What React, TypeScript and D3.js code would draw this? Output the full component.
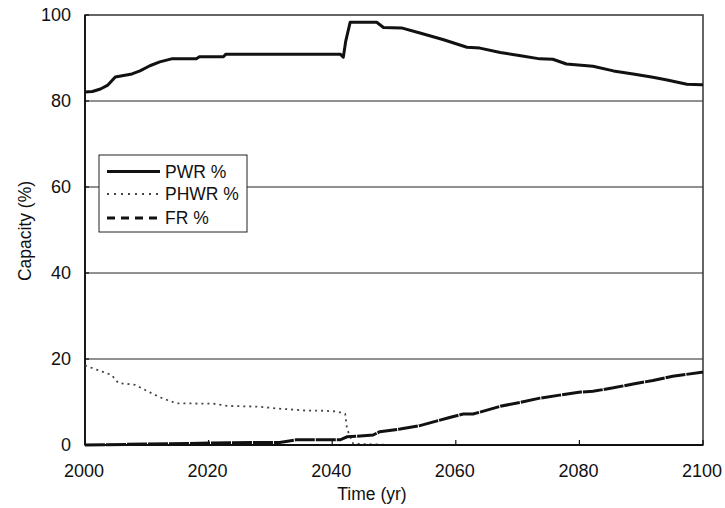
import React from "react";
import * as d3 from "d3";

const pwrYears = [2000, 2001.2, 2002.5, 2003.7, 2004.9, 2007.6, 2008.9, 2010.5, 2012.1, 2014.0, 2018.0, 2018.5, 2022.4, 2022.8, 2041.3, 2041.8, 2042.2, 2042.9, 2047.2, 2048.3, 2051.2, 2054.2, 2057.9, 2061.8, 2063.9, 2067.2, 2070.5, 2073.6, 2075.7, 2077.9, 2082.2, 2085.5, 2088.7, 2091.9, 2094.2, 2097.4, 2099.8, 2100];
const pwrValues = [82.1, 82.2, 82.8, 83.7, 85.6, 86.3, 87.0, 88.2, 89.1, 89.8, 89.8, 90.3, 90.3, 90.9, 90.9, 90.2, 94.0, 98.3, 98.3, 97.1, 97.0, 95.8, 94.3, 92.5, 92.3, 91.3, 90.5, 89.8, 89.7, 88.6, 88.1, 87.0, 86.3, 85.5, 84.9, 83.9, 83.8, 83.8];

const phwrYears = [2000, 2002.5, 2004.3, 2005.4, 2008.1, 2010.0, 2012.1, 2014.8, 2020.8, 2023.0, 2028.3, 2031.0, 2035.8, 2038.0, 2040.8, 2042.1, 2042.4, 2043.4, 2050, 2100];
const phwrValues = [18.5, 17.2, 16.3, 14.4, 14.0, 12.6, 11.1, 9.7, 9.6, 9.1, 8.9, 8.5, 8.0, 8.0, 7.8, 7.2, 3.7, 0.3, 0, 0];

const frYears = [2000, 2027.8, 2031.5, 2034.2, 2041.3, 2042.4, 2046.6, 2047.7, 2051.0, 2054.2, 2059.0, 2061.2, 2062.8, 2067.2, 2070.4, 2073.6, 2076.8, 2080.2, 2082.2, 2085.5, 2088.7, 2091.9, 2095.1, 2099.8, 2100];
const frValues = [0, 0.6, 0.6, 1.2, 1.2, 1.9, 2.3, 3.1, 3.7, 4.5, 6.4, 7.2, 7.2, 9.0, 9.9, 10.9, 11.6, 12.3, 12.5, 13.3, 14.2, 15.0, 16.0, 16.9, 16.9];

const xTicks = [2000, 2020, 2040, 2060, 2080, 2100];
const yTicks = [0, 20, 40, 60, 80, 100];
const gridValues = [20, 40, 60, 80];
const legendLabels = ["PWR %", "PHWR %", "FR %"];

const W = 725, H = 508;
const m = { left: 85, right: 703, top: 15, bottom: 445 };
const font = "Liberation Sans, Arial, sans-serif";

export default function App() {
  const x = d3.scaleLinear().domain([2000, 2100]).range([m.left, m.right]);
  const y = d3.scaleLinear().domain([0, 100]).range([m.bottom, m.top]);
  const line = (xs: number[], vs: number[]) =>
    d3.line<number>().x((_, i) => x(xs[i])).y((d) => y(d))(vs) || "";

  const legendStyles = [
    { dash: undefined, width: 2.8, color: "#111" },
    { dash: "2,5", width: 1.8, color: "#444" },
    { dash: "8,6", width: 2.8, color: "#111" },
  ];
  const legendY = [171.5, 194, 218];

  return (
    <svg width={W} height={H} style={{ position: "absolute", left: 0, top: 0, background: "#fff" }}>
      <rect x={0} y={0} width={W} height={H} fill="#fff" />
      {gridValues.map((v) => (
        <line key={v} x1={m.left} x2={m.right} y1={y(v)} y2={y(v)} stroke="#222" strokeWidth={1} />
      ))}
      <rect x={m.left} y={m.top} width={m.right - m.left} height={m.bottom - m.top} fill="none" stroke="#333" strokeWidth={1.5} />
      <line x1={m.left} x2={m.left} y1={m.top} y2={m.bottom} stroke="#111" strokeWidth={1.8} />
      {yTicks.map((v) => (
        <g key={v}>
          <line x1={m.left} x2={m.left + 4} y1={y(v)} y2={y(v)} stroke="#111" strokeWidth={1.2} />
          <text x={71} y={y(v)} dy="0.36em" textAnchor="end" fontFamily={font} fontSize={18} fill="#111">{v}</text>
        </g>
      ))}
      {xTicks.map((v) => (
        <g key={v}>
          <line x1={x(v)} x2={x(v)} y1={m.bottom} y2={m.bottom - 5} stroke="#111" strokeWidth={1.2} />
          <text x={x(v) - 1} y={477} textAnchor="middle" fontFamily={font} fontSize={18} fill="#111">{v}</text>
        </g>
      ))}
      <text x={372} y={500} textAnchor="middle" fontFamily={font} fontSize={17.5} fill="#111">Time (yr)</text>
      <text transform={`translate(31,${231}) rotate(-90)`} textAnchor="middle" fontFamily={font} fontSize={17.5} fill="#111">Capacity (%)</text>

      <path d={line(phwrYears, phwrValues)} fill="none" stroke="#444" strokeWidth={1.8} strokeDasharray="2,4" />
      <path d={line(frYears, frValues)} fill="none" stroke="#111" strokeWidth={3} strokeDasharray="20,1" />
      <path d={line(pwrYears, pwrValues)} fill="none" stroke="#111" strokeWidth={3} strokeLinejoin="round" />
      <line x1={m.left} x2={m.right} y1={m.bottom} y2={m.bottom} stroke="#111" strokeWidth={2} />

      <rect x={99} y={155} width={148} height={77} fill="#fff" stroke="#222" strokeWidth={1} />
      {legendLabels.map((l, i) => {
        const ly = legendY[i];
        const s = legendStyles[i];
        return (
          <g key={l}>
            <line x1={107} x2={160} y1={ly} y2={ly} stroke={s.color} strokeWidth={s.width} strokeDasharray={s.dash} />
            <text x={165} y={ly} dy="0.36em" fontFamily={font} fontSize={17.5} fill="#111">{l}</text>
          </g>
        );
      })}
    </svg>
  );
}
